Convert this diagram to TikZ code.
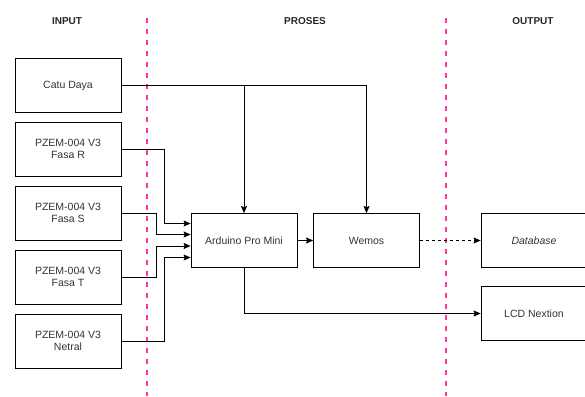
\documentclass[tikz,border=0pt]{standalone}
\usepackage{fontspec}
\setmainfont{Liberation Sans}
\usetikzlibrary{arrows.meta,calc,positioning}
\definecolor{garis}{HTML}{FF3399}

\begin{document}
\begin{tikzpicture}[x=1pt,y=-1pt,
  kotak/.style={draw,line width=0.8pt,minimum width=106pt,minimum height=54pt,align=center,font=\fontsize{10.5}{12.5}\selectfont,text=black!80},
  judul/.style={font=\bfseries\fontsize{10}{12}\selectfont,text=black!85},
  batas/.style={garis,line width=2pt,dash pattern=on 5pt off 6pt},
  panah/.style={line width=0.8pt,-{Stealth[length=7pt,width=6pt,inset=1pt]}}]
  \useasboundingbox (0,0) rectangle (585,396);
  % judul kolom
  \node[judul] (tin) at (67,21){INPUT};
  \node[judul] (tpr) at (305,21){PROSES};
  \node[judul] (tout) at (533,21){OUTPUT};
  % garis batas
  \draw[batas] (147,18)--(147,396);
  \draw[batas] (446,18)--(446,396);
  % blok input
  \node[kotak] (catu) at (68,85.5){Catu Daya};
  \node[kotak] (fasaR) at (68,149){PZEM-004 V3\\Fasa R};
  \node[kotak] (fasaS) at (68,213){PZEM-004 V3\\Fasa S};
  \node[kotak] (fasaT) at (68,277){PZEM-004 V3\\Fasa T};
  \node[kotak] (netral) at (68,341){PZEM-004 V3\\Netral};
  % blok proses
  \node[kotak] (arduino) at (244,240.5){Arduino Pro Mini};
  \node[kotak] (wemos) at (366.5,240.5){Wemos};
  % blok output
  \node[kotak] (db) at (534,240.5){\textit{Database}};
  \node[kotak] (lcd) at (534,313.5){LCD Nextion};
  % titik masuk arduino
  \coordinate (inR) at ($(arduino.west)+(0,-17)$);
  \coordinate (inS) at ($(arduino.west)+(0,-6)$);
  \coordinate (inT) at ($(arduino.west)+(0,5.5)$);
  \coordinate (inN) at ($(arduino.west)+(0,17)$);
  % sambungan
  \draw[panah] (catu.east) -| (wemos.north);
  \draw[panah] (catu.east -| arduino.north) -- (arduino.north);
  \draw[panah] (fasaR.east) -- ++(43,0) |- (inR);
  \draw[panah] (fasaS.east) -- ++(35,0) |- (inS);
  \draw[panah] (fasaT.east) -- ++(35,0) |- (inT);
  \draw[panah] (netral.east) -- ++(43,0) |- (inN);
  \draw[panah] (arduino) -- (wemos);
  \draw[panah,dashed] (wemos) -- (db);
  \draw[panah] (arduino.south) |- (lcd.west);
\end{tikzpicture}
\end{document}
